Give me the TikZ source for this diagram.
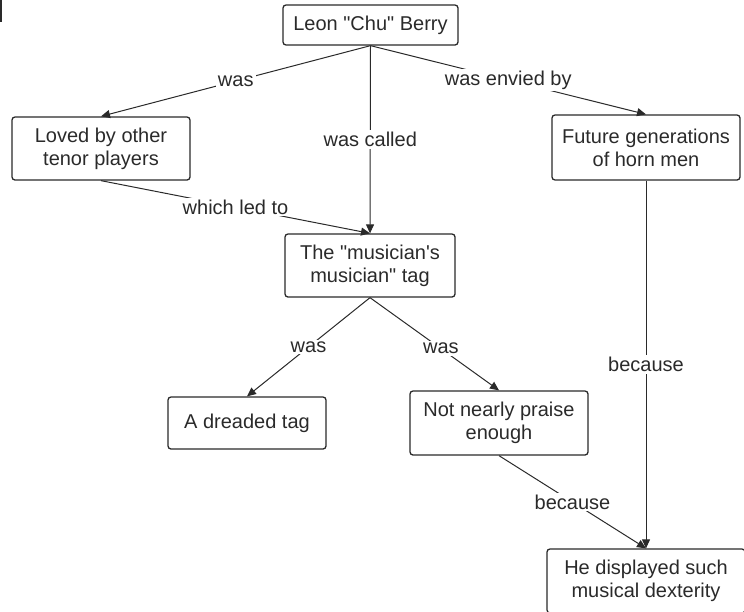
\documentclass[tikz,border=0pt]{standalone}
\usepackage{fontspec}
\setmainfont{Liberation Sans}
\usetikzlibrary{arrows.meta}

\definecolor{ink}{HTML}{2A2A2A}

\begin{document}
\begin{tikzpicture}[x=0.5pt, y=-0.5pt,
    every node/.style={font=\fontsize{10}{11.5}\selectfont, text=ink},
    concept/.style={draw=ink, line width=0.65pt, rounded corners=1.5pt, align=center, inner sep=0pt},
    link/.style={draw=ink, line width=0.5pt, -{Triangle[length=4.5pt, width=4pt]}},
    rel/.style={fill=white, inner sep=1pt}]
    \useasboundingbox (0,0) rectangle (744,611);

    % edge of a box just outside the frame
    \draw[ink, line width=0.65pt] (1,0) -- (1,22);

    % Top concept
    \node[concept, minimum width=87.5pt, minimum height=20pt] (chu) at (370.5,25) {Leon \textquotedbl Chu\textquotedbl{} Berry};

    % Second row
    \node[concept, minimum width=89pt, minimum height=31.5pt] (loved) at (101,148.5) {Loved by other\\tenor players};
    \node[concept, minimum width=94pt, minimum height=32.5pt] (future) at (646,147.5) {Future generations\\of horn men};

    % The tag
    \node[concept, minimum width=85pt, minimum height=31.5pt] (tag) at (370,265.5) {The \textquotedbl musician\textquotesingle s\\musician\textquotedbl{} tag};

    % What the tag was
    \node[concept, minimum width=79pt, minimum height=26pt] (dreaded) at (247,423) {A dreaded tag};
    \node[concept, minimum width=89pt, minimum height=32pt] (praise) at (499,423) {Not nearly praise\\enough};

    % Bottom concept
    \node[concept, minimum width=99pt, minimum height=32pt] (dexterity) at (646,581) {He displayed such\\musical dexterity};

    % Links
    \draw[link] (chu.south) -- node[rel] {was} (loved.north);
    \draw[link] (chu.south) -- node[rel] {was called} (tag.north);
    \draw[link] (chu.south) -- node[rel] {was envied by} (future.north);
    \draw[link] (loved.south) -- node[rel] {which led to} (tag.north);
    \draw[link] (tag.south) -- node[rel] {was} (dreaded.north);
    \draw[link] (tag.south) -- node[rel, pos=0.55] {was} (praise.north);
    \draw[link] (future.south) -- node[rel] {because} (dexterity.north);
    \draw[link] (praise.south) -- node[rel] {because} (dexterity.north);
\end{tikzpicture}
\end{document}
